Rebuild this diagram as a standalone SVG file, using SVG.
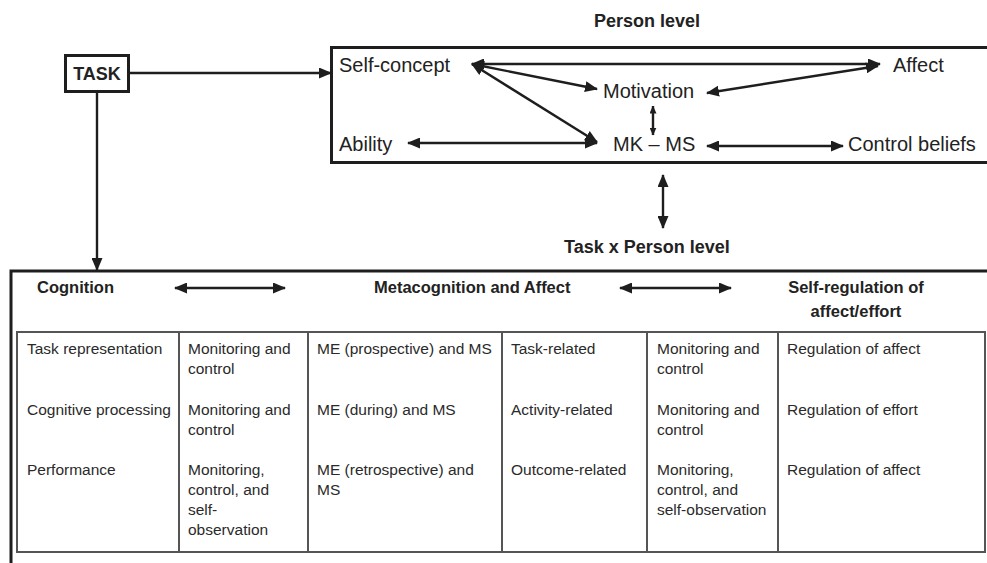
<svg xmlns="http://www.w3.org/2000/svg" width="987" height="563" viewBox="0 0 987 563">
  <style>
    .box { fill: none; stroke: #1e1e1e; stroke-width: 3; }
    .grid { fill: none; stroke: #555; stroke-width: 2; }
    .conn { stroke: #1e1e1e; stroke-width: 2.4; fill: none; }
    .t { font-family: "Liberation Sans", Arial, sans-serif; fill: #222; }
    .lbl { font-size: 20px; }
    .hd { font-size: 18px; font-weight: bold; }
    .ch { font-size: 16.5px; font-weight: bold; }
    .cell { font-size: 15.5px; fill: #2a2a2a; }
  </style>
  <defs>
    <marker id="ah" viewBox="0 0 13 11" refX="12" refY="5.5" markerWidth="13" markerHeight="11" markerUnits="userSpaceOnUse" orient="auto-start-reverse">
      <path d="M0,0 L13,5.5 L0,11 z" fill="#1e1e1e"/>
    </marker>
    <marker id="ahs" viewBox="0 0 8 7" refX="7.5" refY="3.5" markerWidth="8" markerHeight="7" markerUnits="userSpaceOnUse" orient="auto-start-reverse">
      <path d="M0,0 L8,3.5 L0,7 z" fill="#1e1e1e"/>
    </marker>
  </defs>

  <!-- Task node -->
  <g id="task">
    <rect class="box" x="65.5" y="55.5" width="63" height="36"/>
    <text class="t" x="97" y="80" font-size="18" font-weight="bold" text-anchor="middle">TASK</text>
  </g>

  <!-- Person level frame -->
  <g id="person-level">
    <text class="t hd" x="647" y="27" text-anchor="middle">Person level</text>
    <rect class="box" x="331.5" y="47.5" width="700" height="115"/>
  </g>
  <g id="self-concept"><text class="t lbl" x="339" y="72">Self-concept</text></g>
  <g id="affect"><text class="t lbl" x="893" y="72">Affect</text></g>
  <g id="motivation"><text class="t lbl" x="603" y="98">Motivation</text></g>
  <g id="ability"><text class="t lbl" x="339" y="151">Ability</text></g>
  <g id="mk-ms"><text class="t lbl" x="613" y="151">MK – MS</text></g>
  <g id="control-beliefs"><text class="t lbl" x="848" y="151">Control beliefs</text></g>

  <!-- Task x Person level frame -->
  <g id="task-person-level">
    <text class="t hd" x="647" y="253" text-anchor="middle">Task x Person level</text>
    <path class="box" d="M11,563 V271 H987"/>
    <text class="t ch" x="37" y="293">Cognition</text>
    <text class="t ch" x="374" y="293">Metacognition and Affect</text>
    <text class="t ch" x="856" y="293" text-anchor="middle">Self-regulation of</text>
    <text class="t ch" x="856" y="317" text-anchor="middle">affect/effort</text>
  </g>

  <!-- Table of components -->
  <g id="table">
    <rect class="grid" x="17" y="332" width="968" height="220"/>
    <line class="grid" x1="179" y1="332" x2="179" y2="552"/>
    <line class="grid" x1="308" y1="332" x2="308" y2="552"/>
    <line class="grid" x1="502" y1="332" x2="502" y2="552"/>
    <line class="grid" x1="647" y1="332" x2="647" y2="552"/>
    <line class="grid" x1="778" y1="332" x2="778" y2="552"/>

    <text class="t cell" x="27" y="354">Task representation</text>
    <text class="t cell" x="27" y="415">Cognitive processing</text>
    <text class="t cell" x="27" y="475">Performance</text>

    <text class="t cell" x="188" y="354">Monitoring and</text>
    <text class="t cell" x="188" y="374">control</text>
    <text class="t cell" x="188" y="415">Monitoring and</text>
    <text class="t cell" x="188" y="435">control</text>
    <text class="t cell" x="188" y="475">Monitoring,</text>
    <text class="t cell" x="188" y="495">control, and</text>
    <text class="t cell" x="188" y="515">self-</text>
    <text class="t cell" x="188" y="535">observation</text>

    <text class="t cell" x="317" y="354">ME (prospective) and MS</text>
    <text class="t cell" x="317" y="415">ME (during) and MS</text>
    <text class="t cell" x="317" y="475">ME (retrospective) and</text>
    <text class="t cell" x="317" y="495">MS</text>

    <text class="t cell" x="511" y="354">Task-related</text>
    <text class="t cell" x="511" y="415">Activity-related</text>
    <text class="t cell" x="511" y="475">Outcome-related</text>

    <text class="t cell" x="657" y="354">Monitoring and</text>
    <text class="t cell" x="657" y="374">control</text>
    <text class="t cell" x="657" y="415">Monitoring and</text>
    <text class="t cell" x="657" y="435">control</text>
    <text class="t cell" x="657" y="475">Monitoring,</text>
    <text class="t cell" x="657" y="495">control, and</text>
    <text class="t cell" x="657" y="515">self-observation</text>

    <text class="t cell" x="787" y="354">Regulation of affect</text>
    <text class="t cell" x="787" y="415">Regulation of effort</text>
    <text class="t cell" x="787" y="475">Regulation of affect</text>
  </g>

  <!-- Connectors -->
  <g id="connectors">
    <line class="conn" x1="130" y1="73" x2="331" y2="73" marker-end="url(#ah)"/>
    <line class="conn" x1="97" y1="92" x2="97" y2="270" marker-end="url(#ah)"/>
    <line class="conn" x1="472" y1="64" x2="880" y2="64" marker-start="url(#ah)" marker-end="url(#ah)"/>
    <line class="conn" x1="472" y1="64" x2="597" y2="89" marker-start="url(#ah)" marker-end="url(#ah)"/>
    <line class="conn" x1="472" y1="64" x2="597" y2="142" marker-start="url(#ah)" marker-end="url(#ah)"/>
    <line class="conn" x1="707" y1="93" x2="878" y2="66" marker-start="url(#ah)" marker-end="url(#ah)"/>
    <line class="conn" x1="653" y1="106" x2="653" y2="135" stroke-width="1.8" marker-start="url(#ahs)" marker-end="url(#ahs)"/>
    <line class="conn" x1="408" y1="143" x2="597" y2="143" marker-start="url(#ah)" marker-end="url(#ah)"/>
    <line class="conn" x1="707" y1="146" x2="843" y2="146" marker-start="url(#ah)" marker-end="url(#ah)"/>
    <line class="conn" x1="663" y1="175" x2="663" y2="228" stroke-width="3" marker-start="url(#ah)" marker-end="url(#ah)"/>
    <line class="conn" x1="175" y1="288" x2="285" y2="288" marker-start="url(#ah)" marker-end="url(#ah)"/>
    <line class="conn" x1="620" y1="288" x2="731" y2="288" marker-start="url(#ah)" marker-end="url(#ah)"/>
  </g>
</svg>
